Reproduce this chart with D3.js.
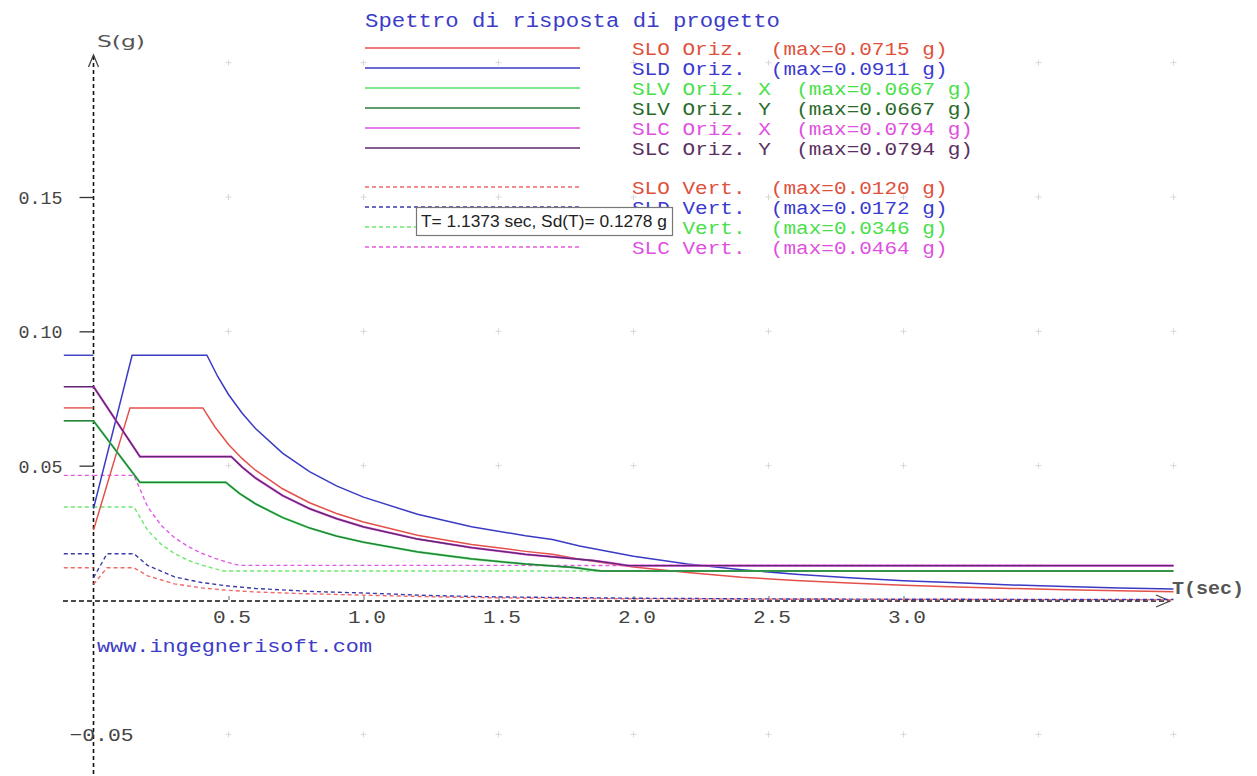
<!DOCTYPE html>
<html><head><meta charset="utf-8">
<script src="https://cdn.jsdelivr.net/npm/d3@7"></script>
<style>body{margin:0;background:#fff}svg{display:block}</style>
</head><body>
<svg id="c" width="1257" height="776"></svg>
<script>
// ---------- data ----------
const seriesLabels = ["SLO Oriz.", "SLD Oriz.", "SLV Oriz. X", "SLV Oriz. Y", "SLC Oriz. X", "SLC Oriz. Y",
                      "SLO Vert.", "SLD Vert.", "SLV Vert.", "SLC Vert."];
const maxValues = [0.0715, 0.0911, 0.0667, 0.0667, 0.0794, 0.0794, 0.0120, 0.0172, 0.0346, 0.0464];
const maxLabels = ["0.0715", "0.0911", "0.0667", "0.0667", "0.0794", "0.0794", "0.0120", "0.0172", "0.0346", "0.0464"];

const sloOrizT = [0, 0.135, 0.405, 0.45, 0.5, 0.55, 0.6, 0.7, 0.8, 0.9, 1.0, 1.2, 1.4, 1.6, 1.7, 1.8, 2.0, 2.2, 2.4, 2.6, 2.8, 3.0, 3.2, 3.4, 3.6, 3.8, 4.0];
const sloOrizS = [0.026, 0.0715, 0.0715, 0.0644, 0.0579, 0.0527, 0.0483, 0.0414, 0.0362, 0.0322, 0.0290, 0.0241, 0.0207, 0.0181, 0.0170, 0.0152, 0.0123, 0.0102, 0.0085, 0.0073, 0.0063, 0.0055, 0.0048, 0.0043, 0.0038, 0.0034, 0.0031];

const sldOrizT = [0, 0.143, 0.42, 0.46, 0.5, 0.55, 0.6, 0.7, 0.8, 0.9, 1.0, 1.2, 1.4, 1.6, 1.7, 1.8, 2.0, 2.2, 2.4, 2.6, 2.8, 3.0, 3.2, 3.4, 3.6, 3.8, 4.0];
const sldOrizS = [0.034, 0.0911, 0.0911, 0.0832, 0.0765, 0.0696, 0.0638, 0.0547, 0.0478, 0.0425, 0.0383, 0.0319, 0.0273, 0.0239, 0.0225, 0.0201, 0.0163, 0.0134, 0.0113, 0.0096, 0.0083, 0.0072, 0.0064, 0.0056, 0.0050, 0.0045, 0.0041];

const slvOrizT = [0, 0.172, 0.49, 0.54, 0.6, 0.7, 0.8, 0.9, 1.0, 1.2, 1.4, 1.6, 1.78, 1.83, 1.88, 4.0];
const slvOrizS = [0.0667, 0.0438, 0.0438, 0.0397, 0.0358, 0.0307, 0.0268, 0.0238, 0.0215, 0.0179, 0.0153, 0.0134, 0.0121, 0.0114, 0.0108, 0.0108];

const slcOrizT = [0, 0.172, 0.51, 0.55, 0.6, 0.7, 0.8, 0.9, 1.0, 1.2, 1.4, 1.6, 1.85, 1.92, 1.98, 4.0];
const slcOrizS = [0.0794, 0.0534, 0.0534, 0.0495, 0.0454, 0.0389, 0.0340, 0.0303, 0.0272, 0.0227, 0.0195, 0.0170, 0.0147, 0.0137, 0.0128, 0.0128];

const sloVertT = [0, 0.05, 0.15, 0.2, 0.3, 0.4, 0.5, 0.6, 0.8, 1.0, 1.25, 1.5, 2.0, 2.5, 3.0, 3.5, 4.0];
const sloVertS = [0.0058, 0.0120, 0.0120, 0.0090, 0.0060, 0.0045, 0.0036, 0.0030, 0.0023, 0.0018, 0.0012, 0.0008, 0.00045, 0.0003, 0.0002, 0.00015, 0.00011];

const sldVertT = [0, 0.05, 0.15, 0.2, 0.3, 0.4, 0.5, 0.6, 0.8, 1.0, 1.25, 1.5, 2.0, 2.5, 3.0, 3.5, 4.0];
const sldVertS = [0.0083, 0.0172, 0.0172, 0.0129, 0.0086, 0.0065, 0.0052, 0.0043, 0.0032, 0.0026, 0.00165, 0.00115, 0.00065, 0.00041, 0.00029, 0.00021, 0.00016];

const slvVertT = [0, 0.15, 0.2, 0.25, 0.3, 0.35, 0.4, 0.48, 4.0];
const slvVertS = [0.0346, 0.0346, 0.0260, 0.0208, 0.0173, 0.0148, 0.0130, 0.0108, 0.0108];

const slcVertT = [0, 0.15, 0.2, 0.25, 0.3, 0.35, 0.4, 0.45, 0.5, 0.54, 4.0];
const slcVertS = [0.0464, 0.0464, 0.0348, 0.0278, 0.0232, 0.0199, 0.0174, 0.0155, 0.0139, 0.0129, 0.0128];

const xTicks = [0.5, 1.0, 1.5, 2.0, 2.5, 3.0];
const yTicks = [-0.05, 0.05, 0.10, 0.15];
const gridT = [0.5, 1.0, 1.5, 2.0, 2.5, 3.0, 3.5, 4.0];
const gridS = [-0.05, 0.05, 0.10, 0.15, 0.20];

const titleText = "Spettro di risposta di progetto";
const tooltipText = "T= 1.1373 sec, Sd(T)= 0.1278 g";
const siteText = "www.ingegnerisoft.com";

// ---------- styles ----------
const colors = ["#e4504a", "#3a3ac4", "#52e26a", "#2a7a3e", "#e050e0", "#5a2a6a",
                "#f06a6a", "#3a3aa8", "#6ee86e", "#e45ae4"];
const textColors = ["#e0503c", "#3a3ad0", "#48e048", "#2a6a2a", "#e050e0", "#5a3060",
                    "#e0503c", "#3a3ad0", "#48e048", "#e050e0"];
const widths = [1.5, 1.5, 2.2, 1.3, 2.2, 1.3, 1.4, 1.4, 1.4, 1.4];

const seriesT = [sloOrizT, sldOrizT, slvOrizT, slvOrizT, slcOrizT, slcOrizT, sloVertT, sldVertT, slvVertT, slcVertT];
const seriesS = [sloOrizS, sldOrizS, slvOrizS, slvOrizS, slcOrizS, slcOrizS, sloVertS, sldVertS, slvVertS, slcVertS];

const svg = d3.select("#c");
const x = d3.scaleLinear().domain([0, 4]).range([93.5, 1173.5]);
const y = d3.scaleLinear().domain([0, 0.15]).range([600, 197]);
const mono = "'Liberation Mono','DejaVu Sans Mono',monospace";

// grid markers
const grid = svg.append("g").attr("stroke", "#d8d8d8").attr("stroke-width", 1);
gridT.forEach(t => gridS.forEach(s => {
  grid.append("line").attr("x1", x(t) - 3).attr("x2", x(t) + 3).attr("y1", y(s)).attr("y2", y(s));
  grid.append("line").attr("x1", x(t)).attr("x2", x(t)).attr("y1", y(s) - 3).attr("y2", y(s) + 3);
}));

// axes (dashed)
svg.append("line").attr("x1", x(0)).attr("x2", x(0)).attr("y1", 56).attr("y2", 776)
  .attr("stroke", "#111").attr("stroke-width", 1.6).attr("stroke-dasharray", "4,3");
svg.append("line").attr("x1", 63).attr("x2", 1170).attr("y1", y(0) + 1).attr("y2", y(0) + 1)
  .attr("stroke", "#111").attr("stroke-width", 1.6).attr("stroke-dasharray", "5,3");
svg.append("path").attr("d", `M1156,${y(0) - 5}L1170,${y(0) + 1}L1156,${y(0) + 7}`)
  .attr("fill", "none").attr("stroke", "#444").attr("stroke-width", 1.3);
svg.append("path").attr("d", `M${x(0) - 5},67L${x(0)},55L${x(0) + 5},67`)
  .attr("fill", "none").attr("stroke", "#444").attr("stroke-width", 1.3);

// y axis ticks & labels
const yAxis = svg.append("g").attr("transform", `translate(${x(0)},0)`)
  .call(d3.axisLeft(y).tickValues(yTicks).tickSize(14).tickPadding(17).tickFormat(d3.format(".2f")));
yAxis.select(".domain").remove();
yAxis.selectAll("line").attr("stroke", "#333").attr("stroke-width", 1.3);
yAxis.selectAll("text").attr("font-family", mono).attr("font-size", 19).attr("fill", "#444")
  .attr("dy", "0.35em").attr("textLength", 44).attr("lengthAdjust", "spacingAndGlyphs");
yAxis.selectAll(".tick").filter(d => d < 0).select("text")
  .attr("text-anchor", "start").attr("x", -24).attr("textLength", 64);
yAxis.selectAll(".tick").filter(d => d < 0).select("line").remove();

// x axis ticks & labels
const xAxis = svg.append("g").attr("transform", `translate(0,${y(0)})`)
  .call(d3.axisBottom(x).tickValues(xTicks).tickSize(-4).tickPadding(10).tickFormat(d3.format(".1f")));
xAxis.select(".domain").remove();
xAxis.selectAll("line").attr("stroke", "#666").attr("stroke-width", 1);
xAxis.selectAll("text").attr("font-family", mono).attr("font-size", 19).attr("fill", "#444")
  .attr("x", 3).attr("textLength", 38).attr("lengthAdjust", "spacingAndGlyphs");

// axis titles
svg.append("text").attr("x", 97).attr("y", 47).text("S(g)")
  .attr("font-family", "'DejaVu Sans',sans-serif").attr("font-size", 16).attr("fill", "#555")
  .attr("textLength", 48).attr("lengthAdjust", "spacingAndGlyphs");
svg.append("text").attr("x", 1172).attr("y", 594).text("T(sec)")
  .attr("font-family", mono).attr("font-size", 18).attr("fill", "#555").attr("font-weight", "bold")
  .attr("textLength", 72).attr("lengthAdjust", "spacingAndGlyphs");

// max markers left of axis
svg.append("g").selectAll("line").data(maxValues).join("line")
  .attr("x1", x(-0.11)).attr("x2", x(0)).attr("y1", d => y(d)).attr("y2", d => y(d))
  .attr("stroke", (d, i) => colors[i]).attr("stroke-width", 1.4)
  .attr("stroke-dasharray", (d, i) => i >= 6 ? "4,3" : null);

// curves
const line = d3.line().x(d => x(d[0])).y(d => y(d[1]));
const curveData = seriesT.map((ts, i) => ts.map((t, j) => [t, seriesS[i][j]]));
const order = [6, 7, 8, 9, 0, 1, 2, 3, 4, 5];
svg.append("g").selectAll("path").data(order).join("path")
  .attr("d", i => line(curveData[i]))
  .attr("fill", "none").attr("stroke", i => colors[i]).attr("stroke-width", i => widths[i])
  .attr("stroke-dasharray", i => i >= 6 ? "4,3" : null);

// title
svg.append("text").attr("x", 365).attr("y", 27).text(titleText)
  .attr("font-family", mono).attr("font-size", 20).attr("fill", "#3c3cc8")
  .attr("textLength", 415).attr("lengthAdjust", "spacingAndGlyphs");

// legend
const legY = [48, 68, 88, 108, 128, 148, 187, 207, 227, 247];
const leg = svg.append("g");
leg.selectAll("line").data(legY).join("line")
  .attr("x1", 365).attr("x2", 580).attr("y1", d => d).attr("y2", d => d)
  .attr("stroke", (d, i) => colors[i]).attr("stroke-width", (d, i) => i < 6 ? 1.6 : 1.4)
  .attr("stroke-dasharray", (d, i) => i >= 6 ? "4,3" : null);
leg.selectAll("text").data(legY).join("text")
  .attr("x", 632).attr("y", d => d + 7)
  .style("white-space", "pre")
  .attr("font-family", mono).attr("font-size", 18)
  .attr("fill", (d, i) => textColors[i])
  .text((d, i) => `${seriesLabels[i]}  (max=${maxLabels[i]} g)`)
  .attr("textLength", function () { return this.textContent.length * 12.7 - 2; })
  .attr("lengthAdjust", "spacingAndGlyphs");

// tooltip box
svg.append("rect").attr("x", 416.5).attr("y", 207.5).attr("width", 256).attr("height", 28)
  .attr("fill", "#fff").attr("stroke", "#777").attr("stroke-width", 1.2);
svg.append("text").attr("x", 421).attr("y", 227).text(tooltipText)
  .attr("font-family", "'Liberation Sans',Arial,sans-serif").attr("font-size", 16).attr("fill", "#222")
  .attr("textLength", 246).attr("lengthAdjust", "spacingAndGlyphs");

// site text
svg.append("text").attr("x", 97).attr("y", 652).text(siteText)
  .attr("font-family", mono).attr("font-size", 18).attr("fill", "#3c3cc8")
  .attr("textLength", 275).attr("lengthAdjust", "spacingAndGlyphs");
</script>
</body></html>
